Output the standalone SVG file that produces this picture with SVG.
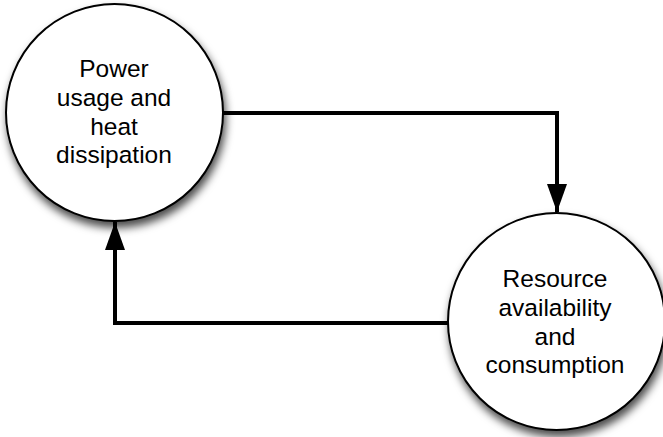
<svg xmlns="http://www.w3.org/2000/svg" width="663" height="437" viewBox="0 0 663 437">
<defs>
<filter id="sh" x="-20%" y="-20%" width="150%" height="150%">
<feDropShadow dx="2" dy="6" stdDeviation="4" flood-color="#000" flood-opacity="0.7"/>
</filter>
<marker id="arr" markerWidth="28" markerHeight="20" refX="28" refY="10" viewBox="0 0 28 20" markerUnits="userSpaceOnUse" orient="auto">
<path d="M0,0 L28,10 L0,20 Z" fill="#000"/>
</marker>
<style>
.node{fill:#fff;stroke:#000;stroke-width:2;filter:url(#sh)}
.lbl{font-family:"Liberation Sans",Arial,Helvetica,sans-serif;font-size:24.5px;fill:#000;text-anchor:middle}
.conn{fill:none;stroke:#000;stroke-width:4;stroke-linejoin:miter}
</style>
</defs>
<g id="connectors">
<path class="conn" d="M223,113 L557,113 L557,212" marker-end="url(#arr)"/>
<path class="conn" d="M448,323 L115,323 L115,222" marker-end="url(#arr)"/>
</g>
<g id="node-power">
<circle class="node" cx="114.5" cy="112.5" r="108.5"/>
<text class="lbl" x="114" y="77">Power</text>
<text class="lbl" x="114" y="106">usage and</text>
<text class="lbl" x="114" y="135">heat</text>
<text class="lbl" x="114" y="163">dissipation</text>
</g>
<g id="node-resource">
<circle class="node" cx="556.5" cy="321.5" r="108.5"/>
<text class="lbl" x="555" y="287">Resource</text>
<text class="lbl" x="555" y="316">availability</text>
<text class="lbl" x="555" y="345">and</text>
<text class="lbl" x="555" y="373">consumption</text>
</g>
</svg>
